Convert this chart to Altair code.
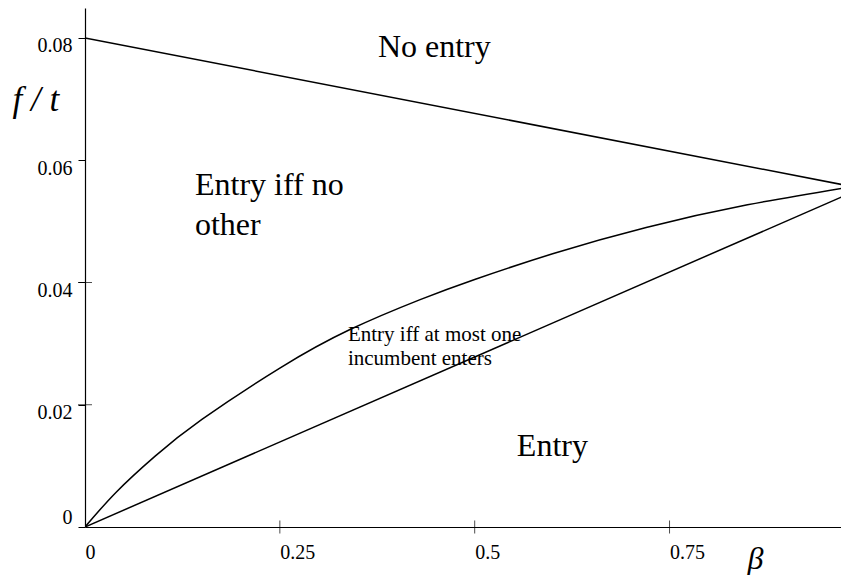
import altair as alt
import pandas as pd

# ---- data ----
beta_top = [0.0, 0.98]
ft_top = [0.0800, 0.0558]

beta_mid = [0.0, 0.04, 0.09, 0.15, 0.25, 0.34, 0.43, 0.50, 0.60, 0.72, 0.85, 0.98]
ft_mid = [0.0, 0.0057, 0.0116, 0.0176, 0.0260, 0.0323, 0.0372, 0.0405, 0.0447, 0.0490, 0.0527, 0.0556]

beta_low = [0.0, 0.98]
ft_low = [0.0, 0.0545]

x_ticks = [0, 0.25, 0.5, 0.75]
y_ticks = [0, 0.02, 0.04, 0.06, 0.08]
x_inner_ticks = [0.25, 0.5, 0.75]
y_inner_ticks = [0.02, 0.04]

big_labels = ["No entry", "Entry iff no\nother", "Entry"]
small_labels = ["Entry iff at most one\nincumbent enters"]

FONT = "Liberation Serif"

# ---- tables ----
curves = pd.concat([
    pd.DataFrame({"beta": beta_top, "ft": ft_top, "curve": "top"}),
    pd.DataFrame({"beta": beta_mid, "ft": ft_mid, "curve": "mid"}),
    pd.DataFrame({"beta": beta_low, "ft": ft_low, "curve": "low"}),
], ignore_index=True)

big_df = pd.DataFrame({"beta": [0.3758, 0.1411, 0.5541],
                       "ft": [0.07684, 0.05431, 0.01161],
                       "text": big_labels})
small_df = pd.DataFrame({"beta": [0.3373], "ft": [0.03043], "text": small_labels})

xscale = alt.Scale(domain=[0, 0.97], nice=False, zero=False)
yscale = alt.Scale(domain=[0, 0.0849], nice=False, zero=False)

x_axis = alt.Axis(
    values=x_ticks, format="~g", ticks=False, grid=False,
    domainColor="black", domainWidth=1.2,
    labelFont=FONT, labelFontSize=20, labelColor="black",
    labelAlign="left", labelBaseline="top", labelPadding=15,
    labelFlush=False, labelOverlap=False,
    title="β", titleFont=FONT, titleFontSize=32, titleFontStyle="italic",
    titleFontWeight="normal", titleColor="black",
    titleAlign="left", titleBaseline="alphabetic", titleX=662, titleY=41,
)
y_axis = alt.Axis(
    values=y_ticks, format="~g", ticks=True, tickSize=7, tickColor="black",
    grid=False, domainColor="black", domainWidth=1.2,
    labelFont=FONT, labelFontSize=20, labelColor="black",
    labelAlign="right", labelPadding=6, labelFlush=False, labelOverlap=False,
    labelBaseline={"expr": "datum.value == 0 ? 'bottom' : 'top'"},
    labelOffset={"expr": "datum.value == 0 ? 0 : -2"},
    title="f / t", titleFont=FONT, titleFontSize=35, titleFontStyle="italic",
    titleFontWeight="normal", titleColor="black", titleAngle=0,
    titleAlign="left", titleBaseline="alphabetic", titleX=-73, titleY=102,
)

lines = alt.Chart(curves).mark_line(
    color="black", strokeWidth=1.5, interpolate="natural", clip=True
).encode(
    x=alt.X("beta:Q", scale=xscale, axis=x_axis),
    y=alt.Y("ft:Q", scale=yscale, axis=y_axis),
    detail="curve:N",
    order="beta:Q",
)

xt = alt.Chart(pd.DataFrame({"beta": x_inner_ticks})).mark_tick(
    orient="vertical", size=13, thickness=1, color="black"
).encode(
    x=alt.X("beta:Q", scale=xscale),
    y=alt.datum(0, scale=yscale),
)
yt = alt.Chart(pd.DataFrame({"ft": y_inner_ticks})).mark_tick(
    orient="horizontal", size=14, thickness=1, color="black"
).encode(
    y=alt.Y("ft:Q", scale=yscale),
    x=alt.datum(0, scale=xscale),
)

big_text = alt.Chart(big_df).mark_text(
    font=FONT, fontSize=32, color="black", align="left",
    baseline="alphabetic", lineBreak="\n", lineHeight=40
).encode(
    x=alt.X("beta:Q", scale=xscale),
    y=alt.Y("ft:Q", scale=yscale),
    text="text:N",
)
small_text = alt.Chart(small_df).mark_text(
    font=FONT, fontSize=21, color="black", align="left",
    baseline="alphabetic", lineBreak="\n", lineHeight=24
).encode(
    x=alt.X("beta:Q", scale=xscale),
    y=alt.Y("ft:Q", scale=yscale),
    text="text:N",
)

chart = alt.layer(lines, xt, yt, big_text, small_text).properties(
    width=756, height=519,
    autosize=alt.AutoSizeParams(type="none"),
    padding={"left": 77, "top": 0, "right": 0, "bottom": 48},
    background="white",
).configure_view(stroke=None)

chart.save("out.html", embed_options={"renderer": "svg", "actions": False})
